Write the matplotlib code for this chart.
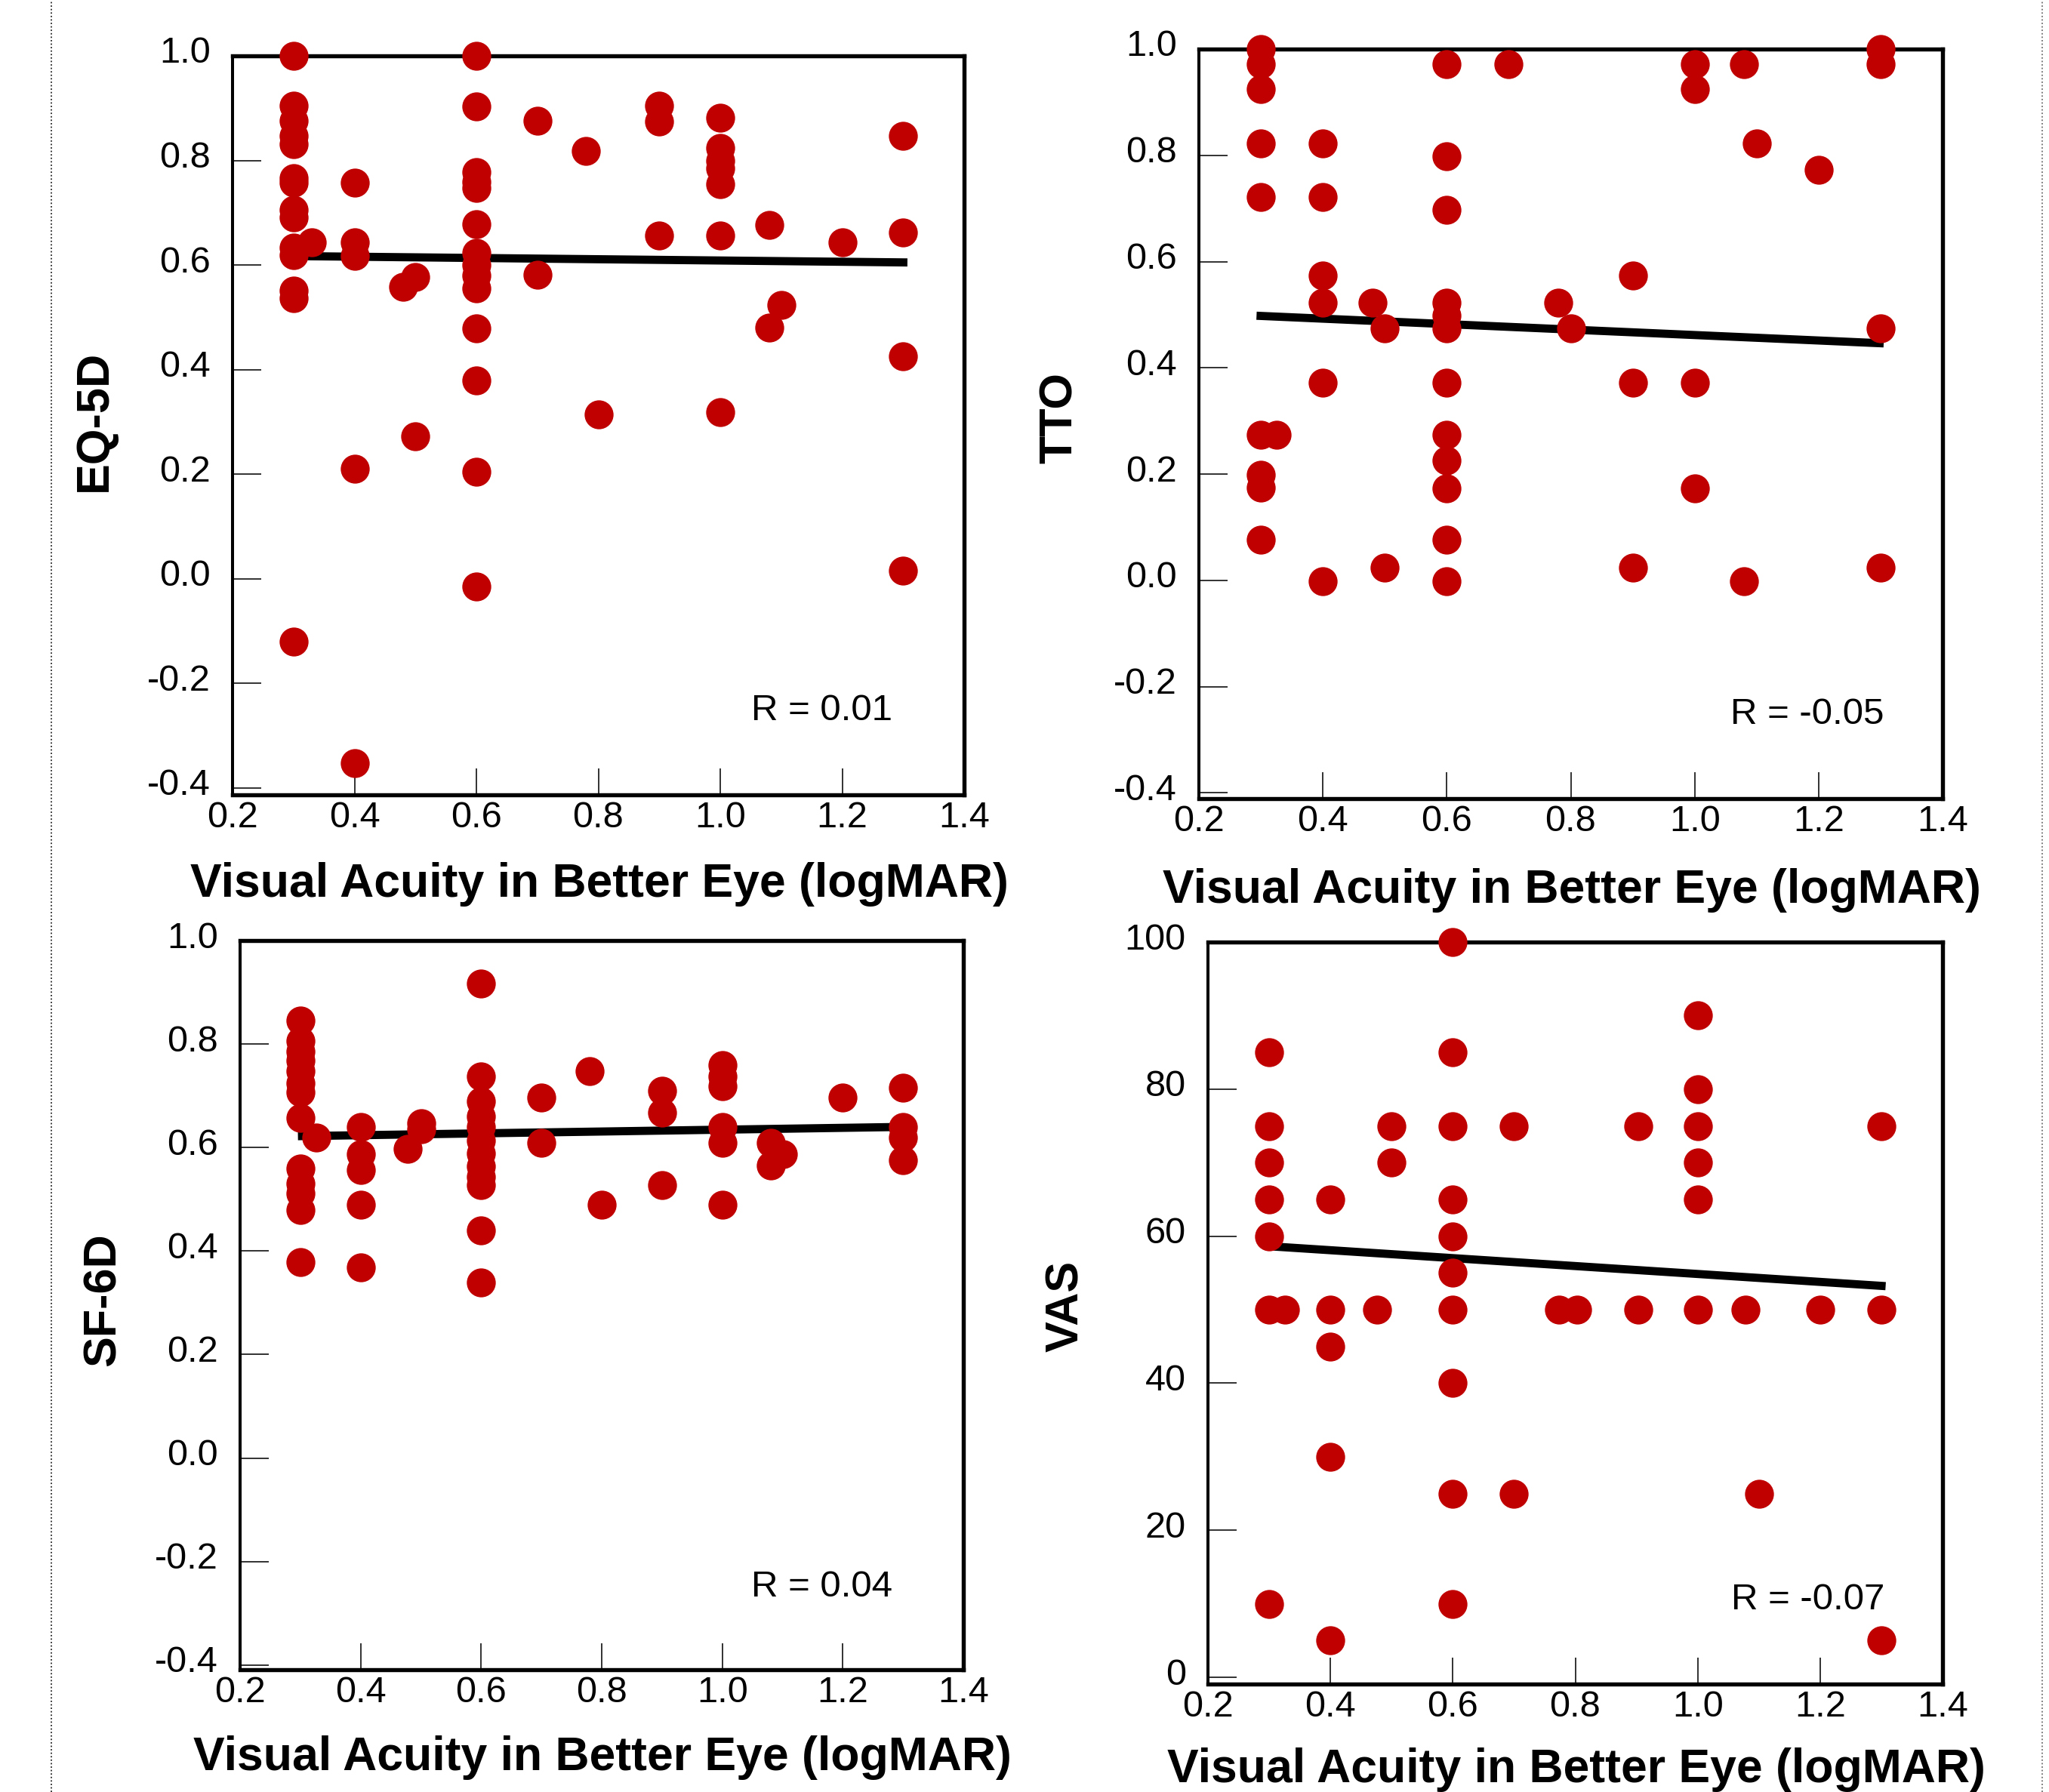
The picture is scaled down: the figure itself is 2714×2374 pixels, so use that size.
import matplotlib
matplotlib.use('Agg')
import matplotlib.pyplot as plt
import matplotlib.transforms as mtransforms
from matplotlib.lines import Line2D

plt.rcParams['font.family'] = ['Liberation Sans', 'DejaVu Sans']

W, H, DPI = 2714, 2374, 100

# ---------------- data ----------------
xlabel_text = "Visual Acuity in Better Eye (logMAR)"
x_ticks = [0.2, 0.4, 0.6, 0.8, 1.0, 1.2, 1.4]
x_tick_labels = ["0.2", "0.4", "0.6", "0.8", "1.0", "1.2", "1.4"]
util_ticks = [-0.4, -0.2, 0.0, 0.2, 0.4, 0.6, 0.8, 1.0]
util_tick_labels = ["-0.4", "-0.2", "0.0", "0.2", "0.4", "0.6", "0.8", "1.0"]
vas_ticks = [0, 20, 40, 60, 80, 100]
vas_tick_labels = ["0", "20", "40", "60", "80", "100"]

# EQ-5D
eq_x = [0.30, 0.30, 0.30, 0.30, 0.30, 0.30, 0.30, 0.30, 0.30, 0.30, 0.30, 0.30, 0.30, 0.30,
        0.33,
        0.40, 0.40, 0.40, 0.40, 0.40,
        0.48,
        0.50, 0.50,
        0.60, 0.60, 0.60, 0.60, 0.60, 0.60, 0.60, 0.60, 0.60, 0.60, 0.60, 0.60, 0.60, 0.60,
        0.70, 0.70,
        0.78,
        0.80,
        0.90, 0.90, 0.90,
        1.00, 1.00, 1.00, 1.00, 1.00, 1.00, 1.00,
        1.08, 1.08,
        1.10,
        1.20,
        1.30, 1.30, 1.30, 1.30]
eq_y = [1.0, 0.905, 0.876, 0.847, 0.831, 0.766, 0.757, 0.706, 0.691, 0.633, 0.619, 0.551, 0.537, -0.12,
        0.643,
        0.757, 0.643, 0.617, 0.211, -0.352,
        0.558,
        0.577, 0.272,
        1.0, 0.903, 0.778, 0.759, 0.747, 0.678, 0.623, 0.60, 0.58, 0.555, 0.479, 0.38, 0.205, -0.014,
        0.876, 0.581,
        0.818,
        0.314,
        0.905, 0.874, 0.657,
        0.882, 0.824, 0.80, 0.785, 0.754, 0.657, 0.319,
        0.676, 0.48,
        0.524,
        0.643,
        0.847, 0.662, 0.425, 0.015]
eq_fit_x = [0.315, 1.307]
eq_fit_y = [0.617, 0.605]
eq_r = "R = 0.01"

# TTO
tto_x = [0.30, 0.30, 0.30, 0.30, 0.30, 0.30, 0.30, 0.30, 0.30,
         0.325,
         0.40, 0.40, 0.40, 0.40, 0.40, 0.40,
         0.48,
         0.50, 0.50,
         0.60, 0.60, 0.60, 0.60, 0.60, 0.60, 0.60, 0.60, 0.60, 0.60, 0.60, 0.60,
         0.70,
         0.78,
         0.80,
         0.90, 0.90, 0.90,
         1.00, 1.00, 1.00, 1.00,
         1.08, 1.08,
         1.10,
         1.20,
         1.30, 1.30, 1.30, 1.30]
tto_y = [1.0, 0.972, 0.924, 0.823, 0.722, 0.274, 0.198, 0.174, 0.076,
         0.274,
         0.823, 0.722, 0.574, 0.522, 0.372, -0.002,
         0.522,
         0.474, 0.024,
         0.972, 0.798, 0.698, 0.522, 0.498, 0.474, 0.372, 0.274, 0.225, 0.173, 0.076, -0.002,
         0.972,
         0.522,
         0.474,
         0.574, 0.372, 0.024,
         0.972, 0.924, 0.372, 0.173,
         0.972, -0.002,
         0.823,
         0.773,
         1.0, 0.972, 0.474, 0.024]
tto_fit_x = [0.293, 1.305]
tto_fit_y = [0.498, 0.446]
tto_r = "R = -0.05"

# SF-6D
sf_x = [0.30, 0.30, 0.30, 0.30, 0.30, 0.30, 0.30, 0.30, 0.30, 0.30, 0.30, 0.30, 0.30,
        0.327,
        0.40, 0.40, 0.40, 0.40, 0.40,
        0.478,
        0.50, 0.50,
        0.60, 0.60, 0.60, 0.60, 0.60, 0.60, 0.60, 0.60, 0.60, 0.60, 0.60, 0.60,
        0.70, 0.70,
        0.78,
        0.80,
        0.90, 0.90, 0.90,
        1.00, 1.00, 1.00, 1.00, 1.00, 1.00,
        1.08, 1.08,
        1.10,
        1.20,
        1.30, 1.30, 1.30, 1.30]
sf_y = [0.846, 0.806, 0.786, 0.768, 0.748, 0.725, 0.707, 0.657, 0.559, 0.531, 0.511, 0.480, 0.379,
        0.62,
        0.640, 0.587, 0.557, 0.489, 0.369,
        0.598,
        0.647, 0.636,
        0.917, 0.738, 0.690, 0.660, 0.640, 0.614, 0.589, 0.564, 0.543, 0.528, 0.440, 0.339,
        0.696, 0.609,
        0.747,
        0.489,
        0.71, 0.667, 0.527,
        0.759, 0.737, 0.718, 0.64, 0.609, 0.489,
        0.609, 0.565,
        0.587,
        0.696,
        0.716, 0.64, 0.62, 0.576]
sf_fit_x = [0.296, 1.308]
sf_fit_y = [0.622, 0.640]
sf_r = "R = 0.04"

# VAS
vas_x = [0.30, 0.30, 0.30, 0.30, 0.30, 0.30, 0.30,
         0.326,
         0.40, 0.40, 0.40, 0.40, 0.40,
         0.476,
         0.50, 0.50,
         0.60, 0.60, 0.60, 0.60, 0.60, 0.60, 0.60, 0.60, 0.60, 0.60,
         0.70, 0.70,
         0.773,
         0.803,
         0.903, 0.903,
         1.00, 1.00, 1.00, 1.00, 1.00, 1.00,
         1.078,
         1.10,
         1.20,
         1.30, 1.30, 1.30]
vas_y = [85, 75, 70, 65, 60, 50, 10,
         50,
         65, 50, 45, 30, 5,
         50,
         75, 70,
         100, 85, 75, 65, 60, 55, 50, 40, 25, 10,
         75, 25,
         50,
         50,
         75, 50,
         90, 80, 75, 70, 65, 50,
         50,
         25,
         50,
         75, 50, 5]
vas_fit_x = [0.305, 1.307]
vas_fit_y = [58.6, 53.2]
vas_r = "R = -0.07"

# ---------------- layout ----------------
fig = plt.figure(figsize=(W / DPI, H / DPI), dpi=DPI)
fig.patch.set_facecolor('white')

RED = '#C00000'
TICK_FS = 35


def px_box(left, right, top, bottom):
    return [left / W, 1 - bottom / H, (right - left) / W, (bottom - top) / H]


def make_panel(box, xs, ys, fx, fy, ylim, yt, ytl):
    ax = fig.add_axes(box)
    ax.set_xlim(0.2, 1.4)
    ax.set_ylim(*ylim)
    ax.set_xticks(x_ticks)
    ax.set_xticklabels(x_tick_labels)
    ax.set_yticks(yt)
    ax.set_yticklabels(ytl)
    ax.tick_params(axis='x', direction='in', length=25, width=1.3, pad=6,
                   labelsize=TICK_FS, color='#222222')
    ax.tick_params(axis='y', direction='in', length=27, width=1.3, pad=21,
                   labelsize=TICK_FS, color='#222222')
    for s in ['top', 'bottom', 'right']:
        ax.spines[s].set_linewidth(3.9)
    ax.spines['left'].set_linewidth(2.9)
    off = mtransforms.ScaledTranslation(0, 8 / DPI, fig.dpi_scale_trans)
    for lab in ax.get_yticklabels():
        lab.set_transform(lab.get_transform() + off)
    ax.plot(fx, fy, color='black', lw=7.8, solid_capstyle='butt', zorder=2)
    ax.plot(xs, ys, 'o', ms=27.6, color=RED, mec='none', clip_on=False, zorder=4)
    return ax


make_panel(px_box(308, 1277, 74, 1053), eq_x, eq_y, eq_fit_x, eq_fit_y,
           (-0.413, 1.0), util_ticks, util_tick_labels)
make_panel(px_box(1588, 2573, 65, 1058), tto_x, tto_y, tto_fit_x, tto_fit_y,
           (-0.411, 1.0), util_ticks, util_tick_labels)
make_panel(px_box(318, 1276, 1246, 2212), sf_x, sf_y, sf_fit_x, sf_fit_y,
           (-0.409, 1.0), util_ticks, util_tick_labels)
make_panel(px_box(1600, 2573, 1248, 2231), vas_x, vas_y, vas_fit_x, vas_fit_y,
           (-0.92, 100), vas_ticks, vas_tick_labels)


def ftext(x, y, s, **kw):
    fig.text(x / W, 1 - y / H, s, **kw)


# x-axis labels (baseline positions)
for cx, by in [(794, 1188), (2082, 1196), (798, 2345), (2088, 2361)]:
    ftext(cx, by, xlabel_text, ha='center', va='baseline', fontsize=45, fontweight='bold')

# y-axis labels
for cx, cy, s in [(125, 557, "EQ-5D"), (1404, 554, "TTO"), (137, 1722, "SF-6D"), (1413, 1730, "VAS")]:
    ftext(cx, cy, s, ha='center', va='center', rotation=90, fontsize=44, fontweight='bold')

# R annotations
for rx, by, s in [(1182, 954, eq_r), (2496, 959, tto_r), (1182, 2115, sf_r), (2496, 2132, vas_r)]:
    ftext(rx, by, s, ha='right', va='baseline', fontsize=35.5)

# page border dotted lines
fig.add_artist(Line2D([68 / W, 68 / W], [0, 1], transform=fig.transFigure,
                      color='black', lw=1.1, linestyle=(0, (1.2, 1.8))))
fig.add_artist(Line2D([2705 / W, 2705 / W], [0, 1], transform=fig.transFigure,
                      color='#555555', lw=1.1, linestyle=(0, (1.2, 1.8))))

fig.savefig('out.png', dpi=DPI, facecolor='white')
